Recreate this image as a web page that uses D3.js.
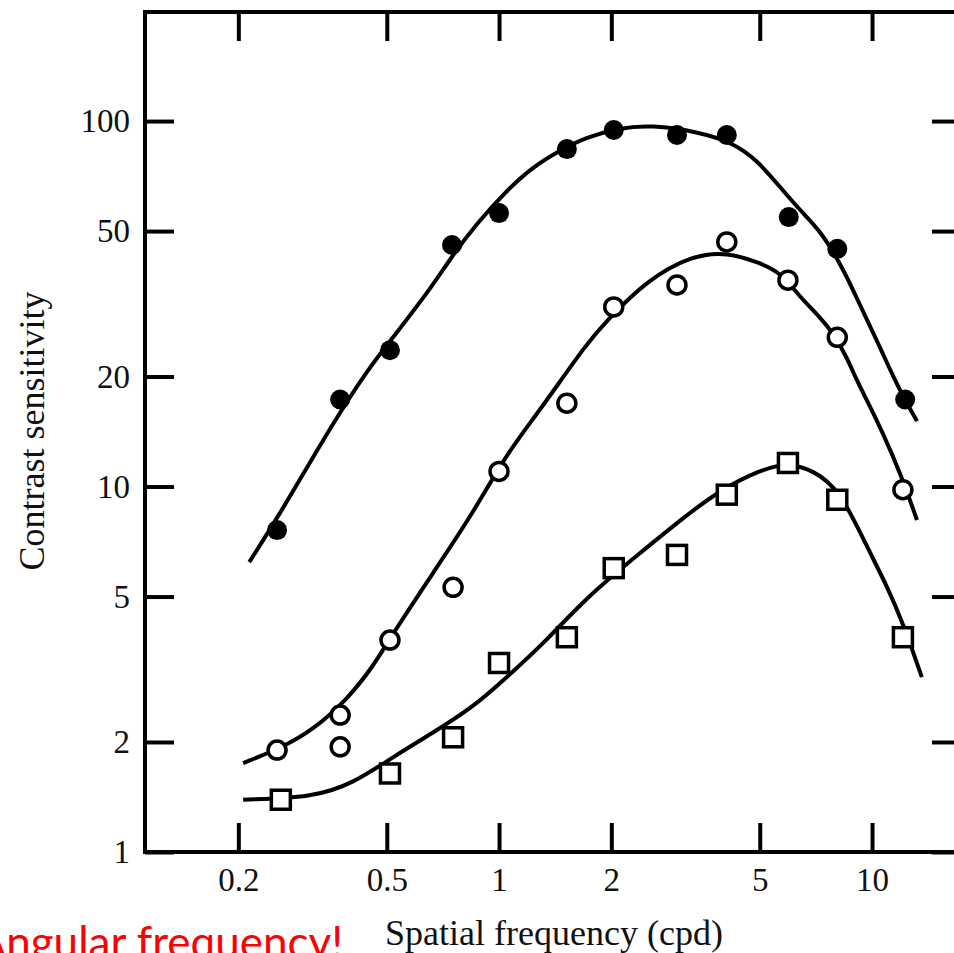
<!DOCTYPE html>
<html>
<head>
<meta charset="utf-8">
<script src="https://cdn.jsdelivr.net/npm/d3@7"></script>
<style>
  body { margin: 0; background: #fff; overflow: hidden; }
  .tick text { font-family: "Liberation Serif", "Times New Roman", serif; }
</style>
</head>
<body>
<div id="chart"></div>
<script>
// data
var filledFreq = [0.254, 0.375, 0.51, 0.748, 1.0, 1.52, 2.03, 3.0, 4.08, 5.98, 8.07, 12.27];
var filledSens = [7.6, 17.3, 23.6, 45.8, 56, 83.8, 94.5, 91.6, 91.6, 54.6, 44.7, 17.3];

var circleFreq = [0.254, 0.375, 0.375, 0.51, 0.753, 1.0, 1.52, 2.03, 3.0, 4.08, 5.95, 8.07, 12.1];
var circleSens = [1.90, 2.37, 1.94, 3.8, 5.3, 11.0, 16.9, 31, 35.6, 46.7, 36.7, 25.6, 9.8];

var squareFreq = [0.26, 0.51, 0.753, 1.0, 1.52, 2.03, 3.0, 4.08, 5.95, 8.07, 12.1];
var squareSens = [1.39, 1.64, 2.06, 3.29, 3.87, 5.98, 6.5, 9.5, 11.6, 9.2, 3.87];

// fitted curves
var fitFreqA = [0.214, 0.259, 0.306, 0.359, 0.443, 0.52, 0.665, 0.739, 0.873, 1.05, 1.23, 1.46, 1.72, 2.11, 2.54, 3.46, 4.24, 4.92, 5.67, 6.41, 7.25, 8.2, 8.9, 9.7, 10.5, 11.7, 13.2];
var fitSensA = [6.21, 8.46, 11.3, 14.9, 20.8, 25.6, 35.5, 42.0, 52.6, 64.7, 74.8, 83.3, 90.4, 95.8, 97.6, 93.3, 87.1, 78.2, 65.9, 57, 50.3, 40.9, 34.5, 28.5, 24.1, 18.8, 15.1];

var fitFreqB = [0.206, 0.264, 0.317, 0.391, 0.459, 0.52, 0.665, 0.852, 1.05, 1.29, 1.72, 1.95, 2.49, 3.31, 4.09, 5.01, 5.67, 6.41, 7.25, 7.86, 8.56, 9.1, 9.7, 10.7, 11.9, 13.2];
var fitSensB = [1.75, 1.94, 2.16, 2.61, 3.21, 3.97, 5.8, 8.46, 12.35, 16.2, 24.7, 28.5, 36.7, 43, 43.8, 40.9, 38.6, 33, 29.1, 26.3, 22.6, 19.5, 17.2, 14.0, 10.9, 8.1];

var fitFreqC = [0.206, 0.317, 0.406, 0.52, 0.665, 0.852, 1.05, 1.345, 1.72, 2.39, 3.06, 3.91, 5.01, 5.92, 6.95, 8.2, 9.7, 11.0, 12.1, 13.6];
var fitSensC = [1.39, 1.41, 1.54, 1.82, 2.12, 2.49, 3.01, 3.8, 4.99, 6.58, 8.09, 9.78, 11.1, 11.6, 11.1, 9.78, 6.83, 5.31, 4.23, 3.01];

var xTicks = [0.2, 0.5, 1, 2, 5, 10];
var yTicks = [1, 2, 5, 10, 20, 50, 100];

var xTitle = "Spatial frequency (cpd)";
var yTitle = "Contrast sensitivity";
var note = "Angular frequency!";

var svgWidth = 954;
var svgHeight = 953;

// plot frame (right edge runs off the picture)
var margin = { top: 12, left: 145 };
var width = 816;
var height = 840;

var svg = d3.select("#chart")
  .append("svg")
  .attr("width", svgWidth)
  .attr("height", svgHeight);

var chartGroup = svg.append("g")
  .attr("transform", `translate(${margin.left}, ${margin.top})`);

// log scales
var xScale = d3.scaleLog()
  .domain([0.1124, 17.32])
  .range([0, width]);

var yScale = d3.scaleLog()
  .domain([1, 198.8])
  .range([height, 0]);

function zip(a, b) {
  return a.map(function(v, i) { return { x: v, y: b[i] }; });
}

// axes, ticks pointing inward
var fmt = function(d) { return String(d); };

var bottomAxis = d3.axisBottom(xScale).tickValues(xTicks).tickFormat(fmt).tickSize(-29).tickPadding(16);
var leftAxis = d3.axisLeft(yScale).tickValues(yTicks).tickFormat(fmt).tickSize(-29).tickPadding(15);
var topAxis = d3.axisTop(xScale).tickValues(xTicks).tickFormat("").tickSize(-29);
var rightAxis = d3.axisRight(yScale).tickValues(yTicks).tickFormat("").tickSize(-29);

var axes = [
  chartGroup.append("g").attr("transform", `translate(0, ${height})`).call(bottomAxis),
  chartGroup.append("g").call(leftAxis),
  chartGroup.append("g").call(topAxis),
  chartGroup.append("g").attr("transform", `translate(${width}, 0)`).call(rightAxis)
];

axes.forEach(function(g) {
  g.select(".domain").remove();
  g.selectAll(".tick line").attr("stroke", "#000").attr("stroke-width", 4);
  g.selectAll(".tick text")
    .attr("fill", "#111")
    .style("font-size", "33px");
});

chartGroup.append("rect")
  .attr("x", 0)
  .attr("y", 0)
  .attr("width", width)
  .attr("height", height)
  .attr("fill", "none")
  .attr("stroke", "#000")
  .attr("stroke-width", 4);

// fitted curves, smoothed through the read points
var line = d3.line()
  .x(d => xScale(d.x))
  .y(d => yScale(d.y))
  .curve(d3.curveBasis);

[[fitFreqA, fitSensA], [fitFreqB, fitSensB], [fitFreqC, fitSensC]].forEach(function(s) {
  chartGroup.append("path")
    .datum(zip(s[0], s[1]))
    .attr("d", line)
    .attr("fill", "none")
    .attr("stroke", "#000")
    .attr("stroke-width", 4);
});

// markers
chartGroup.selectAll(".filled")
  .data(zip(filledFreq, filledSens))
  .enter()
  .append("circle")
  .attr("class", "filled")
  .attr("cx", d => xScale(d.x))
  .attr("cy", d => yScale(d.y))
  .attr("r", 10)
  .attr("fill", "#000");

chartGroup.selectAll(".open")
  .data(zip(circleFreq, circleSens))
  .enter()
  .append("circle")
  .attr("class", "open")
  .attr("cx", d => xScale(d.x))
  .attr("cy", d => yScale(d.y))
  .attr("r", 9)
  .attr("fill", "#fff")
  .attr("stroke", "#000")
  .attr("stroke-width", 3.5);

chartGroup.selectAll(".square")
  .data(zip(squareFreq, squareSens))
  .enter()
  .append("rect")
  .attr("class", "square")
  .attr("x", d => xScale(d.x) - 9.5)
  .attr("y", d => yScale(d.y) - 9.5)
  .attr("width", 19)
  .attr("height", 19)
  .attr("fill", "#fff")
  .attr("stroke", "#000")
  .attr("stroke-width", 3.5);

// axis titles
svg.append("text")
  .attr("x", 554)
  .attr("y", 945)
  .attr("text-anchor", "middle")
  .style("font-family", "'Liberation Serif', serif")
  .style("font-size", "36px")
  .attr("fill", "#111")
  .text(xTitle);

svg.append("text")
  .attr("transform", "translate(44, 431) rotate(-90)")
  .attr("text-anchor", "middle")
  .style("font-family", "'Liberation Serif', serif")
  .style("font-size", "36px")
  .attr("fill", "#111")
  .text(yTitle);

// red note, cut by the left and bottom edges as in the source
svg.append("text")
  .attr("x", 343)
  .attr("y", 958)
  .attr("text-anchor", "end")
  .style("font-family", "Lato, sans-serif")
  .style("font-size", "44px")
  .attr("fill", "#ff0000")
  .text(note);
</script>
</body>
</html>
